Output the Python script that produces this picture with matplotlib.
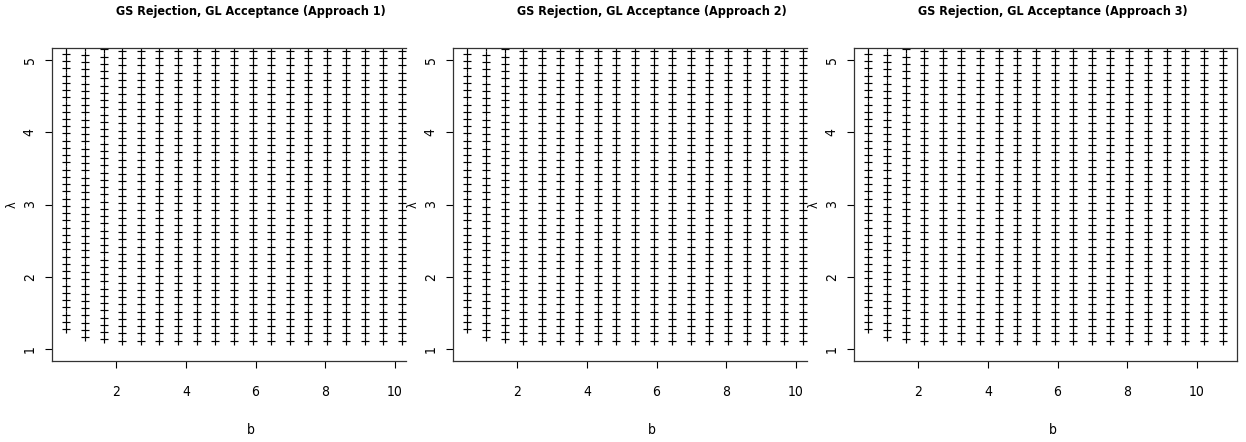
import matplotlib
matplotlib.use("Agg")
import matplotlib.pyplot as plt
import numpy as np

plt.rcParams['font.family'] = ['DejaVu Sans', 'Liberation Sans']
plt.rcParams['font.stretch'] = 'condensed'

titles = ["GS Rejection, GL Acceptance (Approach 1)",
          "GS Rejection, GL Acceptance (Approach 2)",
          "GS Rejection, GL Acceptance (Approach 3)"]

# grid of b values (columns)
b_grid = [0.57, 1.10, 1.64, 2.17, 2.71, 3.24, 3.78, 4.31, 4.85, 5.38,
          5.92, 6.45, 6.99, 7.52, 8.06, 8.59, 9.13, 9.66, 10.20, 10.74]
# grid of lambda values (rows)
lambda_grid = [1.11, 1.21, 1.31, 1.41, 1.51, 1.61, 1.71, 1.81, 1.91, 2.01,
               2.11, 2.21, 2.31, 2.41, 2.51, 2.61, 2.71, 2.81, 2.91, 3.01,
               3.11, 3.21, 3.31, 3.41, 3.51, 3.61, 3.71, 3.81, 3.91, 4.01,
               4.11, 4.21, 4.31, 4.41, 4.51, 4.61, 4.71, 4.81, 4.91, 5.01,
               5.11, 5.21, 5.31]
# smallest accepted lambda for each b column
lambda_min = [1.28, 1.17, 1.14, 1.12, 1.12, 1.12, 1.12, 1.12, 1.12, 1.12,
              1.12, 1.12, 1.12, 1.12, 1.12, 1.12, 1.12, 1.12, 1.12, 1.12]
lambda_step = 0.1

x_ticks = [2, 4, 6, 8, 10]
y_ticks = [1, 2, 3, 4, 5]

W, H = 1246, 442
fig = plt.figure(figsize=(W / 100, H / 100), dpi=100)

def px(x0, y0, w, h):
    return [x0 / W, 1 - (y0 + h) / H, w / W, h / H]

top_px, bot_px = 48, 361
scale_x = 34.85
full_w = 383
for i in range(3):
    left = 52 + 401 * i
    last = (i == 2)
    w = full_w if last else 354
    ax = fig.add_axes(px(left, top_px, w, bot_px - top_px))
    xs, ys = [], []
    for b, lmin in zip(b_grid, lambda_min):
        n = int(round((lambda_grid[-1] - lmin) / lambda_step)) + 1
        for k in range(n):
            xs.append(b)
            ys.append(lmin + lambda_step * k)
    ax.plot(xs, ys, linestyle='none', marker='+', color='black',
            markersize=5.4, markeredgewidth=0.85)
    ax.set_xlim(0.16, 0.16 + w / scale_x)
    ax.set_ylim(0.84, 5.16)
    ax.set_xticks(x_ticks)
    ax.set_yticks(y_ticks)
    ax.set_yticklabels([str(v) for v in y_ticks], rotation=90, va='center')
    ax.tick_params(axis='both', direction='out', length=5, width=0.8,
                   labelsize=10, colors='black')
    ax.tick_params(axis='x', pad=12)
    ax.tick_params(axis='y', pad=6)
    for s in ax.spines.values():
        s.set_linewidth(0.9)
        s.set_color('#333333')
    if not last:
        ax.spines['right'].set_visible(False)
    cx = left + full_w / 2 + 7
    fig.text(cx / W, 1 - 12 / H, titles[i], ha='center', va='center',
             fontsize=9, fontweight='bold')
    fig.text(cx / W, 1 - 430 / H, 'b', ha='center', va='center', fontsize=10)
    fig.text((left - 40) / W, 1 - 205 / H, 'λ', ha='center', va='center',
             fontsize=9, rotation=90)

fig.savefig('out.png', dpi=100)
